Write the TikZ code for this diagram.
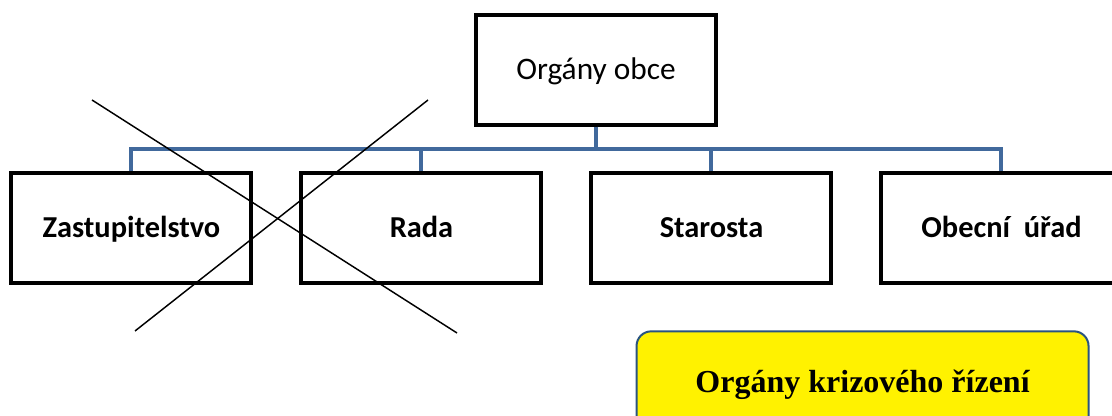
\documentclass[tikz,border=0pt]{standalone}
\usepackage{fontspec}
\setmainfont{Carlito}
\newfontfamily\serifb{Liberation Serif}
\usepackage{xcolor}
\usepackage{tikz}
\usetikzlibrary{shapes, arrows, positioning, calc}

\definecolor{busblue}{HTML}{41699C}
\definecolor{frameblue}{HTML}{2A5480}

\begin{document}
\begin{tikzpicture}[
        node distance=34.5pt,
        organ/.style={rectangle, draw, line width=3pt, minimum width=180pt, minimum height=82.5pt, text height=15pt, text depth=0pt, font=\fontsize{23.5}{26}\selectfont},
        unit/.style={organ, font=\fontsize{22.8}{26}\selectfont\bfseries},
        bus/.style={draw=busblue, line width=3pt},
        krize/.style={rectangle, rounded corners=11pt, draw=frameblue, line width=1.5pt, fill=yellow, minimum width=339pt, minimum height=75pt, text height=16pt, text depth=0pt, font=\fontsize{24}{27}\serifb\bfseries}
    ]
        \useasboundingbox (0,0) rectangle (834pt,-312pt);

        \node[organ] (obec) at (447pt,-52.5pt) {Orgány obce};
        \node[unit] (zastup) at (98.6pt,-171pt) {Zastupitelstvo};
        \node[unit, right=of zastup] (rada) {Rada};
        \node[unit, right=of rada] (starosta) {Starosta};
        \node[unit, right=of starosta] (urad) {Obecní\ \ úřad};

        % Bus down to every unit
        \foreach \u in {zastup, rada, starosta, urad}
            \draw[bus] (obec.south) -- ++(0,-16.5pt) -| (\u.north);

        % Zastupitelstvo and Rada crossed out
        \coordinate (xa) at (69pt,-75pt);
        \coordinate (xb) at (342.75pt,-249.75pt);
        \coordinate (xc) at (321pt,-75pt);
        \coordinate (xd) at (101.25pt,-248.25pt);
        \draw[line width=1.1pt] (xa) -- (xb);
        \draw[line width=1.1pt] (xc) -- (xd);

        \node[krize] (krizove) at (646.9pt,-286pt) {Orgány krizového řízení};

    \end{tikzpicture}
\end{document}
